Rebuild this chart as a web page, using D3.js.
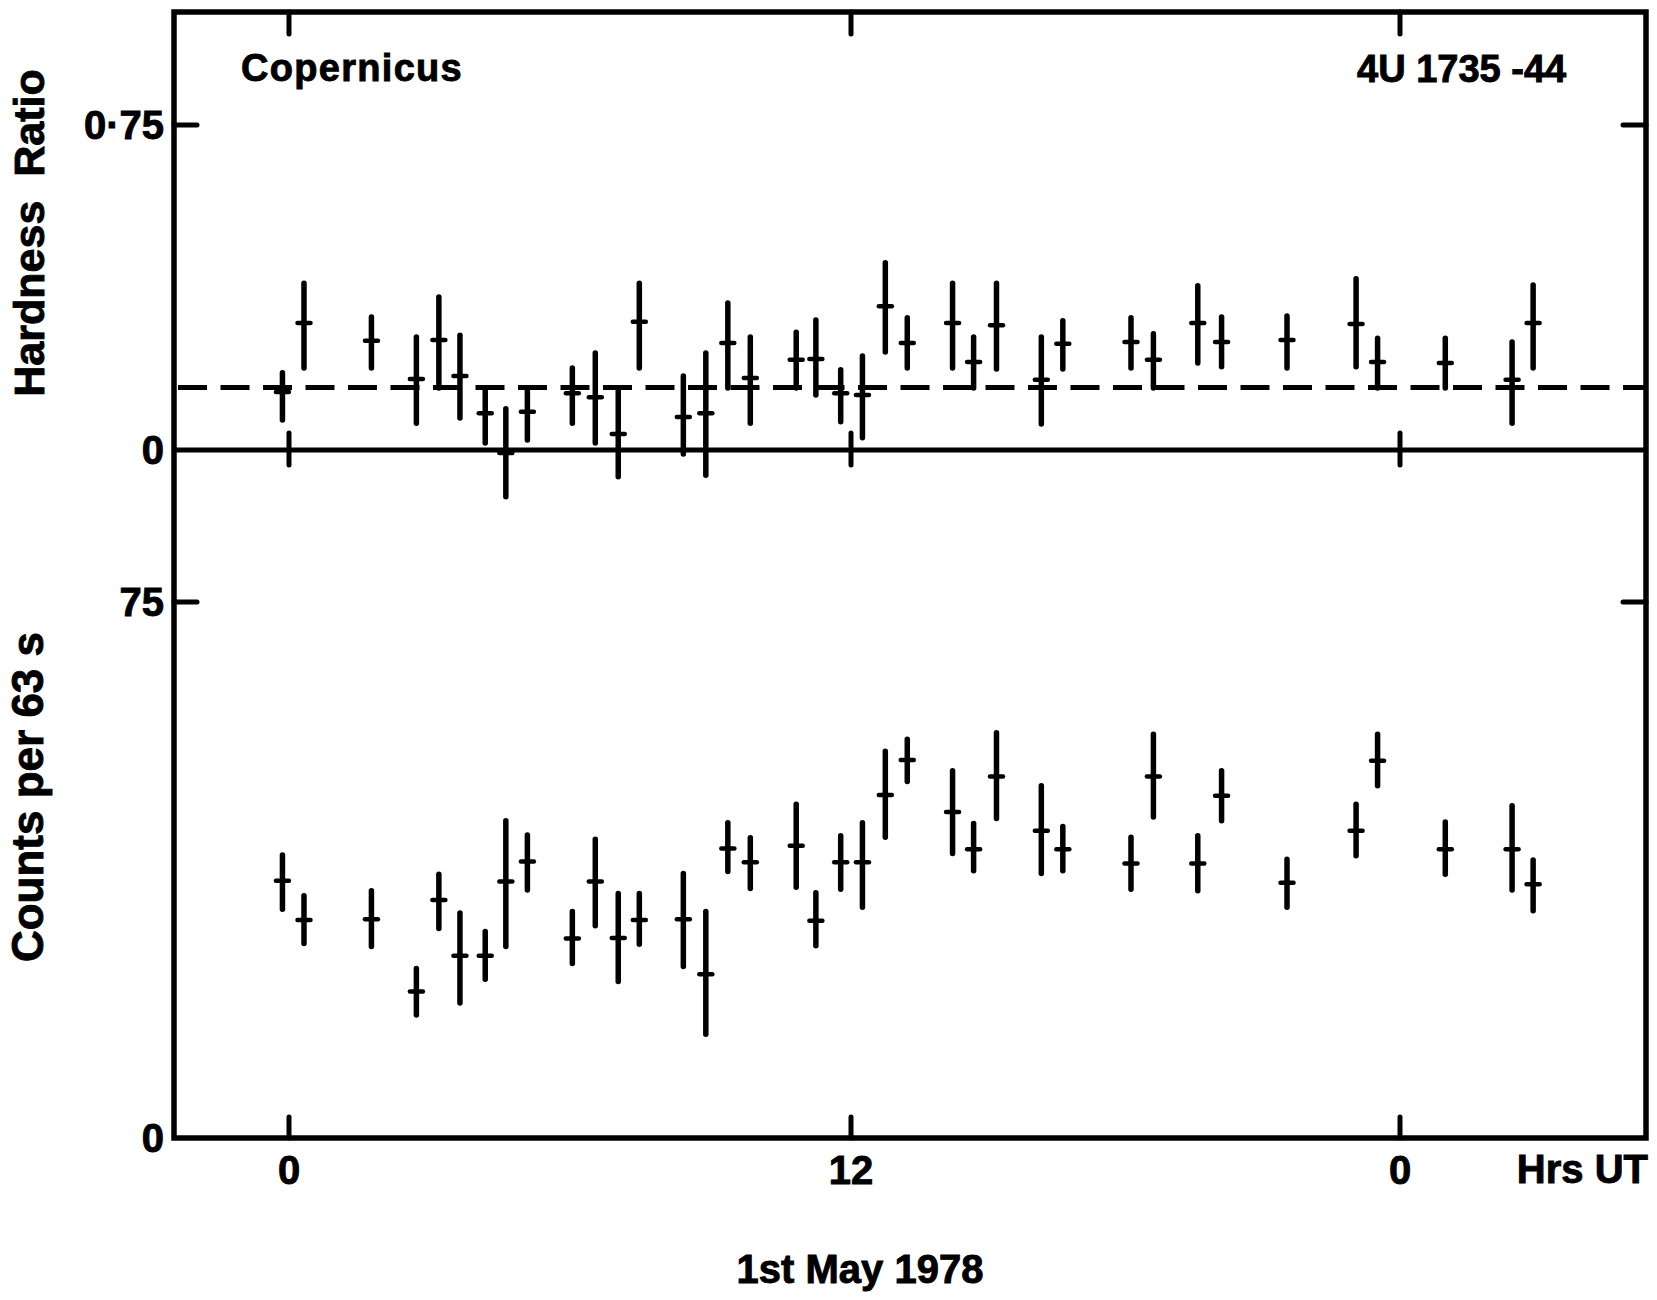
<!DOCTYPE html>
<html>
<head>
<meta charset="utf-8">
<script src="https://cdn.jsdelivr.net/npm/d3@7"></script>
<style>
  html, body { margin: 0; padding: 0; background: #fff; }
  svg { display: block; }
  text { font-family: "Liberation Sans", Arial, sans-serif; font-weight: bold; fill: #000; stroke: #000; stroke-width: 0.9; }
</style>
</head>
<body>
<svg id="chart" width="1657" height="1300"></svg>
<script>
// ---- data (hours UT since 0h 1 May 1978) ----
const times = [-0.14, 0.32, 1.76, 2.72, 3.20, 3.65, 4.19, 4.63, 5.09, 6.05,
               6.54, 7.03, 7.48, 8.42, 8.90, 9.37, 9.85, 10.83, 11.25, 11.78,
               12.25, 12.75, 13.23, 14.22, 14.68, 15.18, 16.16, 16.63, 18.12, 18.61,
               19.58, 20.10, 21.53, 23.04, 23.51, 24.99, 26.45, 26.91];

const hardness   = [0.134, 0.293, 0.252, 0.164, 0.254, 0.171, 0.085, -0.007, 0.088, 0.131,
                    0.122, 0.037, 0.296, 0.076, 0.085, 0.247, 0.166, 0.208, 0.210, 0.131,
                    0.127, 0.332, 0.247, 0.293, 0.203, 0.288, 0.162, 0.245, 0.249, 0.208,
                    0.293, 0.249, 0.254, 0.291, 0.203, 0.201, 0.162, 0.293];
const hardnessLo = [0.069, 0.189, 0.189, 0.062, 0.143, 0.074, 0.016, -0.108, 0.023, 0.062,
                    0.016, -0.062, 0.189, -0.009, -0.058, 0.143, 0.062, 0.143, 0.127, 0.065,
                    0.028, 0.226, 0.189, 0.189, 0.143, 0.187, 0.060, 0.187, 0.189, 0.143,
                    0.201, 0.192, 0.189, 0.192, 0.143, 0.143, 0.062, 0.189];
const hardnessHi = [0.178, 0.385, 0.307, 0.261, 0.353, 0.265, 0.143, 0.095, 0.143, 0.189,
                    0.224, 0.143, 0.385, 0.171, 0.224, 0.339, 0.261, 0.272, 0.300, 0.185,
                    0.217, 0.432, 0.305, 0.385, 0.261, 0.385, 0.261, 0.298, 0.305, 0.268,
                    0.379, 0.307, 0.309, 0.395, 0.258, 0.258, 0.249, 0.381];
const meanHardness = 0.144;

const counts   = [36.0, 30.5, 30.6, 20.5, 33.3, 25.5, 25.5, 35.9, 38.7, 27.9,
                  35.9, 28.0, 30.5, 30.6, 22.9, 40.5, 38.6, 40.9, 30.4, 38.6,
                  38.6, 48.0, 52.9, 45.6, 40.4, 50.6, 43.0, 40.4, 38.4, 50.6,
                  38.4, 47.9, 35.7, 43.0, 52.8, 40.4, 40.4, 35.5];
const countsLo = [32.0, 27.2, 26.8, 17.2, 29.3, 18.9, 22.2, 26.8, 34.7, 24.4,
                  29.7, 21.9, 27.1, 24.0, 14.5, 37.3, 34.9, 35.1, 26.9, 34.8,
                  32.3, 42.1, 49.9, 39.8, 37.4, 44.7, 37.0, 37.4, 34.8, 44.9,
                  34.6, 44.4, 32.3, 39.5, 49.3, 36.9, 34.7, 31.8];
const countsHi = [39.6, 33.9, 34.6, 23.7, 36.9, 31.5, 28.9, 44.4, 42.4, 31.7,
                  41.8, 34.2, 34.2, 37.0, 31.7, 44.1, 42.0, 46.7, 34.3, 42.3,
                  44.1, 54.1, 55.8, 51.4, 44.0, 56.7, 49.3, 43.6, 42.1, 56.5,
                  42.3, 51.4, 39.0, 46.7, 56.5, 44.2, 46.5, 38.9];

const xTicks = [0, 12, 24];
const xTickLabels = ["0", "12", "0"];
const hardTicks = [0, 0.75];
const hardTickLabels = ["0", "0·75"];
const countTicks = [0, 75];
const countTickLabels = ["0", "75"];

// ---- layout ----
const frame = { left: 174, right: 1646, top: 12, bottom: 1138 };
const svg = d3.select("#chart");
svg.append("rect").attr("width", 1657).attr("height", 1300).attr("fill", "#fff");

const x = d3.scaleLinear().domain([0, 12, 24]).range([289, 851, 1400]);
const yH = d3.scaleLinear().domain([0, 0.75]).range([450, 125]);
const yC = d3.scaleLinear().domain([0, 75]).range([1138, 602]);

const ink = "#000";
const g = svg.append("g");

// frame
g.append("rect")
  .attr("x", frame.left).attr("y", frame.top)
  .attr("width", frame.right - frame.left).attr("height", frame.bottom - frame.top)
  .attr("fill", "none").attr("stroke", ink).attr("stroke-width", 5.5);

// hardness zero line (panel divider)
g.append("line")
  .attr("x1", frame.left).attr("x2", frame.right)
  .attr("y1", yH(0)).attr("y2", yH(0))
  .attr("stroke", ink).attr("stroke-width", 5);

// mean hardness dashed line
g.append("line")
  .attr("x1", frame.left + 4).attr("x2", frame.right - 2)
  .attr("y1", yH(meanHardness)).attr("y2", yH(meanHardness))
  .attr("stroke", ink).attr("stroke-width", 5)
  .attr("stroke-dasharray", "29,13.5");

// x ticks: top edge, middle line, bottom edge
const tickW = 5;
xTicks.forEach((t, i) => {
  const xp = x(t);
  g.append("line").attr("x1", xp).attr("x2", xp).attr("y1", frame.top).attr("y2", frame.top + 22)
    .attr("stroke", ink).attr("stroke-width", tickW).attr("stroke-linecap", "round");
  g.append("line").attr("x1", xp).attr("x2", xp).attr("y1", yH(0) - 17).attr("y2", yH(0) + 15)
    .attr("stroke", ink).attr("stroke-width", tickW).attr("stroke-linecap", "round");
  g.append("line").attr("x1", xp).attr("x2", xp).attr("y1", frame.bottom).attr("y2", frame.bottom - 21)
    .attr("stroke", ink).attr("stroke-width", tickW).attr("stroke-linecap", "round");
  g.append("text").attr("x", xp).attr("y", 1184)
    .attr("text-anchor", "middle").attr("font-size", 40).text(xTickLabels[i]);
});

// y ticks (left and right) and labels
function yTicks(scale, ticks, labels) {
  ticks.forEach((v, i) => {
    const yp = scale(v);
    if (v !== 0) {
      g.append("line").attr("x1", frame.left).attr("x2", frame.left + 23).attr("y1", yp).attr("y2", yp)
        .attr("stroke", ink).attr("stroke-width", tickW).attr("stroke-linecap", "round");
      g.append("line").attr("x1", frame.right).attr("x2", frame.right - 23).attr("y1", yp).attr("y2", yp)
        .attr("stroke", ink).attr("stroke-width", tickW).attr("stroke-linecap", "round");
    }
    g.append("text").attr("x", 164).attr("y", yp + 14)
      .attr("text-anchor", "end").attr("font-size", 40).text(labels[i]);
  });
}
yTicks(yH, hardTicks, hardTickLabels);
yTicks(yC, countTicks, countTickLabels);

// error-bar crosses
function crosses(vals, lo, hi, scale, half) {
  const pts = g.append("g");
  pts.selectAll("line.v").data(vals).join("line")
    .attr("x1", (d, i) => x(times[i])).attr("x2", (d, i) => x(times[i]))
    .attr("y1", (d, i) => scale(hi[i])).attr("y2", (d, i) => scale(lo[i]))
    .attr("stroke", ink).attr("stroke-width", 5.5).attr("stroke-linecap", "round");
  pts.selectAll("line.h").data(vals).join("line")
    .attr("x1", (d, i) => x(times[i]) - half).attr("x2", (d, i) => x(times[i]) + half)
    .attr("y1", d => scale(d)).attr("y2", d => scale(d))
    .attr("stroke", ink).attr("stroke-width", 4.5).attr("stroke-linecap", "round");
}
crosses(hardness, hardnessLo, hardnessHi, yH, 6.5);
crosses(counts, countsLo, countsHi, yC, 6.5);

// texts
g.append("text").attr("x", 241).attr("y", 81).attr("font-size", 38)
  .attr("letter-spacing", 1.3).text("Copernicus");
g.append("text").attr("x", 1357).attr("y", 82).attr("font-size", 38).text("4U 1735 -44");
g.append("text").attr("x", 1648).attr("y", 1183).attr("text-anchor", "end")
  .attr("font-size", 40).text("Hrs UT");
g.append("text").attr("x", 860).attr("y", 1283).attr("text-anchor", "middle")
  .attr("font-size", 40).text("1st May 1978");
g.append("text").attr("transform", "translate(44,233) rotate(-90)")
  .attr("text-anchor", "middle").attr("font-size", 43).attr("xml:space", "preserve")
  .text("Hardness  Ratio");
g.append("text").attr("transform", "translate(43,797) rotate(-90)")
  .attr("text-anchor", "middle").attr("font-size", 44).text("Counts per 63 s");
</script>
</body>
</html>
